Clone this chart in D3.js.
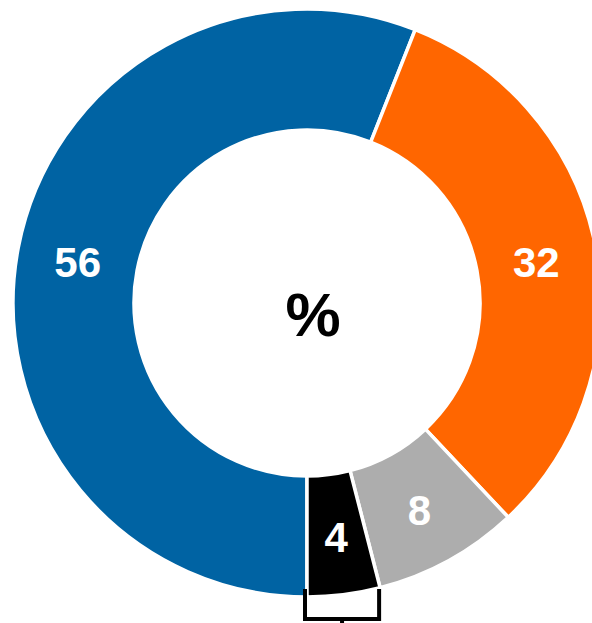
<!DOCTYPE html>
<html>
  <head>
    <meta charset="utf-8">
    <style>
      body {
          margin: 0;
          font-family: "Liberation Sans", Arial, sans-serif;
          background: #fff;
      }
      .slice path {
          stroke: #fff;
          stroke-width: 3.5px;
      }
      .slice text {
          fill: #fff;
          font-weight: bold;
          font-size: 42px;
      }
    </style>
  </head>
  <body>
    <script src="https://d3js.org/d3.v7.min.js"></script>
    <script>
      // data
      var categories = ["A", "B", "C", "D"];
      var values = [56, 32, 8, 4];
      var colors = ["#0063a3", "#ff6600", "#adadad", "#000000"];
      var centerLabel = "%";

      var width = 592, height = 623;
      var cx = 307, cy = 303,
          outerR = 294, innerR = 173;

      var svg = d3.select("body").append("svg")
          .attr("width", width)
          .attr("height", height);

      var g = svg.append("g")
          .attr("transform", "translate(" + cx + "," + cy + ")");

      // pie starts at the bottom and goes clockwise
      var pie = d3.pie()
          .sort(null)
          .startAngle(Math.PI)
          .endAngle(3 * Math.PI)
          .value(function(d) { return d; });

      var arc = d3.arc()
          .innerRadius(innerR)
          .outerRadius(outerR);

      var arcs = pie(values);

      var slice = g.selectAll(".slice")
          .data(arcs)
          .enter().append("g")
          .attr("class", "slice");

      slice.append("path")
          .attr("d", arc)
          .style("fill", function(d, i) { return colors[i]; });

      slice.append("text")
          .attr("transform", function(d) { return "translate(" + arc.centroid(d) + ")"; })
          .attr("dy", "0.42em")
          .attr("text-anchor", "middle")
          .text(function(d) { return d.data; });

      // center label
      g.append("text")
          .attr("x", 6)
          .attr("y", 33)
          .attr("text-anchor", "middle")
          .style("font-size", "62px")
          .style("font-weight", "bold")
          .style("fill", "#000")
          .text(centerLabel);

      // bracket under the smallest slice
      var last = arcs[arcs.length - 1];
      var xl = outerR * Math.sin(last.endAngle) - 2,
          xr = outerR * Math.sin(last.startAngle) - 1,
          yt = outerR - 8,
          yb = outerR + 22,
          xm = (xl + xr) / 2;

      g.append("path")
          .attr("d", "M" + xl + "," + yt + "V" + yb + "H" + xr + "V" + yt +
                     "M" + xm + "," + yb + "V" + (yb + 10))
          .style("fill", "none")
          .style("stroke", "#000")
          .style("stroke-width", 4);
    </script>
  </body>
</html>
